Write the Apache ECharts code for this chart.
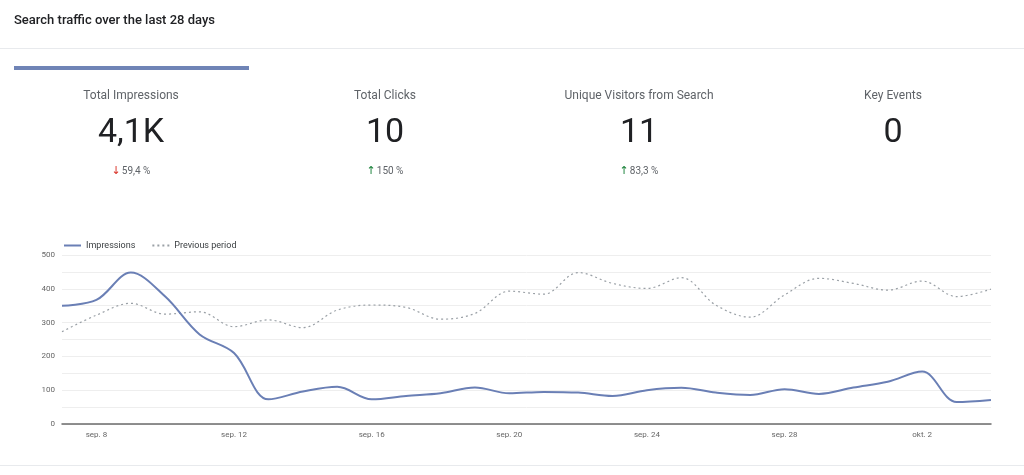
<!DOCTYPE html>
<html>
<head>
<meta charset="utf-8">
<script src="https://cdn.jsdelivr.net/npm/echarts@6/dist/echarts.min.js"></script>
<style>
html,body{margin:0;padding:0;background:#fff;}
#c{width:1024px;height:475px;}
</style>
</head>
<body>
<div id="c"></div>
<script>
const categories = ['sep. 7','sep. 8','sep. 9','sep. 10','sep. 11','sep. 12','sep. 13','sep. 14','sep. 15','sep. 16','sep. 17','sep. 18','sep. 19','sep. 20','sep. 21','sep. 22','sep. 23','sep. 24','sep. 25','sep. 26','sep. 27','sep. 28','sep. 29','sep. 30','okt. 1','okt. 2','okt. 3','okt. 4'];
const impressions = [350,367,448,377,265,210,73,96,110,73,83,91,108,91,95,93,83,100,107,93,86,103,89,108,125,155,65,71];
const previousPeriod = [273,322,357,325,332,288,308,285,337,352,345,310,327,393,384,448,416,401,433,352,316,382,431,416,396,423,377,399];
const yTicks = [0,100,200,300,400,500];
const kpiLabels = ['Total Impressions','Total Clicks','Unique Visitors from Search','Key Events'];
const kpiValues = ['4,1K','10','11','0'];
const kpiChanges = ['59,4 %','150 %','83,3 %',''];
const kpiDirections = ['down','up','up',''];

const FONT = 'Roboto, "Noto Sans", sans-serif';
const chart = echarts.init(document.getElementById('c'), null, {renderer:'canvas'});

const graphics = [
  {type:'text', left:14, top:14, style:{text:'Search traffic over the last 28 days', font:'500 13px '+FONT, fill:'#202124'}},
  {type:'rect', shape:{x:0,y:48,width:1024,height:1}, style:{fill:'#e8eaed'}},
  {type:'rect', shape:{x:14,y:66,width:235,height:4}, style:{fill:'#6f84b6'}},
  {type:'rect', shape:{x:0,y:465,width:1024,height:1}, style:{fill:'#e8eaed'}}
];
const centers = [131,385,639,893];
kpiLabels.forEach((lab,i)=>{
  const cx = centers[i];
  graphics.push({type:'text', x:cx, y:96, style:{text:lab, font:'12px '+FONT, fill:'#5f6368', align:'center', verticalAlign:'middle'}});
  graphics.push({type:'text', x:cx, y:133, style:{text:kpiValues[i], font:'34px '+FONT, fill:'#202124', align:'center', verticalAlign:'middle'}});
  if (kpiChanges[i]) {
    const arrow = kpiDirections[i]==='down' ? '↓' : '↑';
    const col = kpiDirections[i]==='down' ? '#d93025' : '#188038';
    graphics.push({type:'text', x:cx, y:171, style:{
      text:'{a|'+arrow+'}{t|'+kpiChanges[i]+'}', align:'center', verticalAlign:'middle',
      rich:{a:{fill:col, font:'11px "DejaVu Sans", sans-serif', padding:[0,1,0,0]}, t:{fill:'#5f6368', font:'10px '+FONT}}
    }});
  }
});

chart.setOption({
  animation:false,
  textStyle:{fontFamily:FONT},
  graphic:graphics,
  legend:{
    left:58, top:236, itemWidth:17, itemHeight:10, itemGap:16,
    itemStyle:{opacity:0},
    textStyle:{fontSize:9, color:'#3c4043', fontFamily:FONT},
    data:[{name:'Impressions'},{name:'Previous period'}]
  },
  grid:{left:62, right:33, top:255, bottom:51},
  xAxis:{
    type:'category', data:categories, boundaryGap:false,
    axisLine:{lineStyle:{color:'#6b6b6b', width:1.5}},
    axisTick:{show:false},
    axisLabel:{interval:(i)=> i%4===1, color:'#666', fontSize:8, margin:7, fontFamily:FONT},
    splitLine:{show:false}
  },
  yAxis:{
    type:'value', min:0, max:500, interval:50,
    axisLine:{show:false}, axisTick:{show:false},
    axisLabel:{color:'#666', fontSize:8, margin:7, fontFamily:FONT,
      formatter:(v)=> yTicks.indexOf(v)>=0 ? String(v) : ''},
    splitLine:{lineStyle:{color:'#eeeeee', width:1}}
  },
  series:[
    {name:'Impressions', type:'line', data:impressions, smooth:0.35, symbol:'none',
      lineStyle:{color:'#6a7fb5', width:2}, itemStyle:{color:'#6a7fb5'}, z:3},
    {name:'Previous period', type:'line', data:previousPeriod, smooth:0.35, symbol:'none',
      lineStyle:{color:'#9aa0a6', width:1.2, type:[2,3]}, itemStyle:{color:'#9aa0a6'}, z:2}
  ]
});
</script>
</body>
</html>
